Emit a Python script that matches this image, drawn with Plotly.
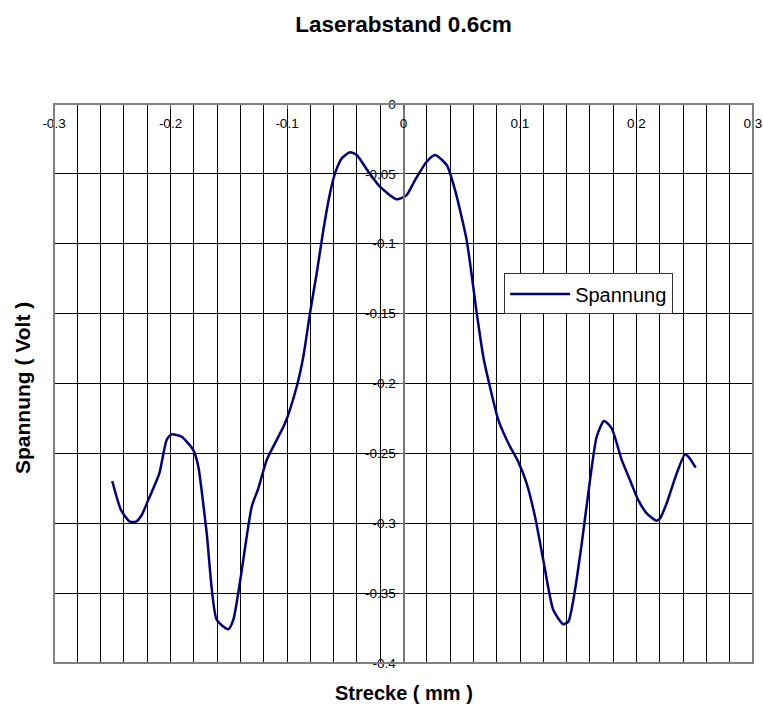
import plotly.graph_objects as go

# Measured voltage along the scan (x in mm, voltage in V)
strecke = [
    -0.2500, -0.2425, -0.2348, -0.2296, -0.2247, -0.2191, -0.2096, -0.2033,
    -0.1990, -0.1904, -0.1804, -0.1761, -0.1689, -0.1603, -0.1504, -0.1461,
    -0.1403, -0.1303, -0.1246, -0.1174, -0.1017, -0.0917, -0.0860, -0.0803,
    -0.0745, -0.0688, -0.0631, -0.0588, -0.0530, -0.0459, -0.0402, -0.0302,
    -0.0202, -0.0058, 0.0027, 0.0099, 0.0199, 0.0270, 0.0371, 0.0442,
    0.0542, 0.0629, 0.0685, 0.0742, 0.0814, 0.0900, 0.0985, 0.1057,
    0.1129, 0.1200, 0.1286, 0.1372, 0.1415, 0.1458, 0.1530, 0.1601,
    0.1658, 0.1721, 0.1787, 0.1873, 0.1944, 0.2015, 0.2088, 0.2173,
    0.2202, 0.2259, 0.2345, 0.2416, 0.2445, 0.2508,
]
spannung = [
    -0.2698, -0.2905, -0.2989, -0.2989, -0.2941, -0.2834, -0.2643, -0.2404,
    -0.2364, -0.2381, -0.2476, -0.2595, -0.3072, -0.3692, -0.3759, -0.3692,
    -0.3418, -0.2882, -0.2750, -0.2547, -0.2285, -0.2023, -0.1808, -0.1498,
    -0.1211, -0.0902, -0.0639, -0.0496, -0.0389, -0.0346, -0.0365, -0.0484,
    -0.0592, -0.0682, -0.0651, -0.0544, -0.0413, -0.0365, -0.0437, -0.0615,
    -0.0973, -0.1498, -0.1808, -0.2023, -0.2261, -0.2428, -0.2560, -0.2714,
    -0.2953, -0.3263, -0.3621, -0.3723, -0.3704, -0.3549, -0.3144, -0.2691,
    -0.2381, -0.2268, -0.2321, -0.2547, -0.2691, -0.2834, -0.2929, -0.2982,
    -0.2965, -0.2857, -0.2643, -0.2507, -0.2524, -0.2602,
]

x_tick_vals = [-0.3, -0.2, -0.1, 0, 0.1, 0.2, 0.3]
x_tick_text = ["-0.3", "-0.2", "-0.1", "0", "0.1", "0.2", "0.3"]
y_tick_vals = [0, -0.05, -0.1, -0.15, -0.2, -0.25, -0.3, -0.35, -0.4]
y_tick_text = ["0", "-0.05", "-0.1", "-0.15", "-0.2", "-0.25", "-0.3", "-0.35", "-0.4"]

FONT = "Liberation Sans, Arial, sans-serif"
TICK_FONT = dict(family=FONT, size=13.5, color="black")

fig = go.Figure()
fig.add_trace(go.Scatter(
    x=strecke, y=spannung, mode="lines", name="Spannung",
    line=dict(color="#000080", width=2.5, shape="spline", smoothing=0.6),
))

fig.update_layout(
    width=763, height=704,
    margin=dict(l=54, r=10, t=104, b=41, autoexpand=False),
    paper_bgcolor="white", plot_bgcolor="white",
    font=dict(family=FONT, color="black", size=13),
    title=dict(text="<b>Laserabstand 0.6cm</b>", font=dict(size=22.5, family=FONT),
               x=0.5, xref="paper", xanchor="center",
               y=1 - 24 / 704, yref="container", yanchor="middle"),
    showlegend=True,
    legend=dict(x=0.644, y=0.697, xanchor="left", yanchor="top",
                bgcolor="white", bordercolor="#333333", borderwidth=1,
                font=dict(size=20, family=FONT, color="black"), itemwidth=60),
    # x axis line sits on y = 0 (top edge), labels hang below it
    xaxis=dict(
        range=[-0.3, 0.3], side="bottom", anchor="free", position=1,
        automargin=False,
        tickmode="array", tickvals=x_tick_vals, ticktext=x_tick_text,
        tickfont=TICK_FONT,
        ticks="outside", ticklen=4, tickcolor="#555555",
        ticklabelstandoff=3,
        showgrid=True, gridcolor="black", gridwidth=1,
        minor=dict(tickmode="linear", tick0=0, dtick=0.02, showgrid=True,
                   gridcolor="black", gridwidth=1),
        showline=True, linecolor="#555555", linewidth=2,
        zeroline=False, fixedrange=True,
    ),
    # y axis line sits on x = 0 (centre of the plot)
    yaxis=dict(
        range=[-0.4, 0], anchor="free", position=0.5, side="left",
        automargin=False,
        tickmode="array", tickvals=y_tick_vals, ticktext=y_tick_text,
        tickfont=TICK_FONT,
        ticks="outside", ticklen=4, tickcolor="#555555",
        showgrid=True, gridcolor="black", gridwidth=1,
        showline=True, linecolor="#777777", linewidth=2,
        zeroline=False, fixedrange=True,
    ),
    shapes=[dict(type="rect", xref="paper", yref="paper", x0=0, x1=1, y0=0, y1=1,
                 line=dict(color="#808080", width=2), fillcolor="rgba(0,0,0,0)")],
    annotations=[
        dict(text="<b>Strecke ( mm )</b>", xref="paper", yref="paper",
             x=0.5, y=-30 / 559, xanchor="center", yanchor="middle",
             showarrow=False, font=dict(size=20, family=FONT)),
        dict(text="<b>Spannung ( Volt )</b>", xref="paper", yref="paper",
             x=-32 / 699, y=275 / 559, xanchor="center", yanchor="middle",
             textangle=-90, showarrow=False, font=dict(size=21, family=FONT)),
    ],
)

fig.write_html("out.html")
